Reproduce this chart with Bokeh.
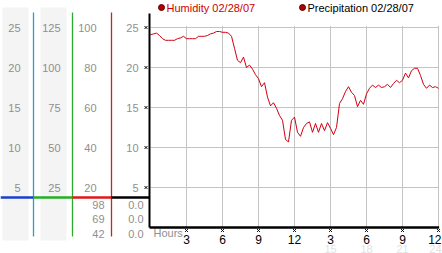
from bokeh.plotting import figure
from bokeh.models import Range1d
from bokeh.core.properties import value
from bokeh.embed import file_html
from bokeh.resources import INLINE
import numpy as np

# ---- data ----
hours = np.arange(0, 24.01, 0.25)
humidity = [24.1, 24.2, 24.3, 24.0, 23.6, 23.4, 23.4, 23.4, 23.4, 23.6, 23.7, 23.9,
            23.6, 23.6, 23.6, 23.6, 23.9, 23.9, 23.9, 24.0, 24.2, 24.3, 24.5, 24.5,
            24.4, 24.4, 24.3, 23.9, 22.4, 20.9, 20.6, 21.3, 20.0, 20.3, 19.8, 19.1,
            18.6, 17.6, 18.1, 16.3, 15.2, 15.6, 14.9, 14.0, 13.4, 11.0, 10.7, 13.4,
            13.8, 11.9, 11.4, 12.5, 13.0, 13.2, 11.9, 13.0, 11.9, 13.0, 12.1, 13.1,
            12.4, 11.6, 12.5, 15.5, 16.1, 17.0, 17.6, 16.9, 16.5, 15.1, 15.9, 15.4,
            16.7, 17.4, 17.8, 17.5, 17.8, 17.5, 17.6, 17.9, 17.5, 18.0, 18.4, 18.1,
            18.4, 19.3, 18.7, 19.6, 19.9, 19.9, 19.0, 17.9, 17.4, 17.8, 17.5, 17.6, 17.4]

grid_values = [5, 10, 15, 20, 25]
grid_hours = [3, 6, 9, 12, 15, 18, 21, 24]
hour_labels = ["3", "6", "9", "12", "3", "6", "9", "12"]
hour24_ticks = [15, 18, 21, 24]
hour24_labels = ["15", "18", "21", "24"]
col1_labels = ["5", "10", "15", "20", "25"]
col2_labels = ["25", "50", "75", "100", "125"]
col3_labels = ["20", "40", "60", "80", "100"]
col4_labels = ["5", "10", "15", "20", "25"]
col3_readouts = ["98", "69", "42"]
col4_readouts = ["0.0", "0.0", "0.0"]
legend_labels = ["Humidity 02/28/07", "Precipitation 02/28/07"]

# ---- pixel helpers (layout only) ----
def hx(px):
    return (px - 150) / 12.0

def vy(py):
    return (227 - py) / 8.0

FONT = value("Liberation Sans")
GRAY = "#8f8f8f"

p = figure(width=442, height=253, output_backend="svg", toolbar_location=None,
           x_range=Range1d(hx(0), hx(442)), y_range=Range1d(vy(253), vy(0)),
           min_border=0, x_axis_location=None, y_axis_location=None,
           outline_line_color=None, background_fill_color="white")
p.xgrid.visible = False
p.ygrid.visible = False

# gray bands of left columns
p.quad(left=[hx(2), hx(40)], right=[hx(28), hx(66)], bottom=vy(240), top=vy(7),
       fill_color="#f4f4f4", line_color=None)

# grid
for v in grid_values:
    p.line([0, 24], [v, v], line_color="#c4c4c4", line_width=1)
for h in grid_hours:
    p.line([h, h], [0, 25.2], line_color="#c4c4c4", line_width=1)

# data line
p.line(hours, humidity, line_color="#d00010", line_width=1)

# axes lines
p.line([hx(149), hx(149)], [0, vy(13)], line_color="black", line_width=2)
p.line([hx(149), 24.05], [0, 0], line_color="black", line_width=2.5)

# left column vertical lines
for px, c in [(33, "#2a9ad0"), (72, "#2eaa2e"), (111, "#c02828")]:
    p.line([hx(px), hx(px)], [vy(236), vy(12)], line_color=c, line_width=1.3)
# horizontal colored separator
for x0, x1, c in [(0, 33, "#1a3fd0"), (33, 72, "#22b022"), (72, 111, "#e01818"), (111, 149, "black")]:
    p.line([hx(x0), hx(x1)], [vy(197), vy(197)], line_color=c, line_width=2.5)

# y tick markers
p.scatter(x=[hx(145.5)] * len(grid_values), y=grid_values, marker="x", size=4,
          line_color="black", line_width=1)

# left column labels
for labels, px in [(col1_labels, 20), (col2_labels, 60), (col3_labels, 96), (col4_labels, 138)]:
    p.text(x=[hx(px)] * len(labels), y=grid_values, text=labels, text_font=FONT,
           text_font_size="11px", text_color=GRAY, text_align="right", text_baseline="middle")
read_y = [vy(204), vy(218), vy(233)]
p.text(x=[hx(104)] * 3, y=read_y, text=col3_readouts, text_font=FONT, text_font_size="11px",
       text_color=GRAY, text_align="right", text_baseline="middle")
p.text(x=[hx(143)] * 3, y=read_y, text=col4_readouts, text_font=FONT, text_font_size="11px",
       text_color=GRAY, text_align="right", text_baseline="middle")

# x tick markers and labels
p.scatter(x=grid_hours, y=[vy(230)] * len(grid_hours), marker="x", size=4,
          line_color="black", line_width=1)
p.text(x=grid_hours[:-1], y=[vy(239)] * (len(grid_hours) - 1), text=hour_labels[:-1], text_font=FONT,
       text_font_size="12px", text_color="black", text_align="center", text_baseline="middle")
p.text(x=grid_hours[-1:], y=[vy(239)], text=hour_labels[-1:], text_font=FONT, x_offset=3,
       text_font_size="12px", text_color="black", text_align="right", text_baseline="middle")
p.text(x=hour24_ticks[:-1], y=[vy(248)] * (len(hour24_ticks) - 1), text=hour24_labels[:-1], text_font=FONT,
       text_font_size="11px", text_color="#e2e2e2", text_align="center", text_baseline="middle")
p.text(x=hour24_ticks[-1:], y=[vy(248)], text=hour24_labels[-1:], text_font=FONT, x_offset=3,
       text_font_size="11px", text_color="#e2e2e2", text_align="right", text_baseline="middle")
p.text(x=[hx(153)], y=[vy(232)], text=["Hours"], text_font=FONT, text_font_size="11px",
       text_color=GRAY, text_align="left", text_baseline="middle")

# legend
p.scatter(x=[hx(161), hx(302)], y=[vy(7), vy(7)], size=6, marker="circle",
          fill_color="#b00000", line_color="#600000")
p.text(x=[hx(166)], y=[vy(7)], text=[legend_labels[0]], text_font=FONT, text_font_size="11px",
       text_color="#cc0000", text_align="left", text_baseline="middle")
p.text(x=[hx(307)], y=[vy(7)], text=[legend_labels[1]], text_font=FONT, text_font_size="11px",
       text_color="black", text_align="left", text_baseline="middle")

open("out.html", "w").write(file_html(p, INLINE))
